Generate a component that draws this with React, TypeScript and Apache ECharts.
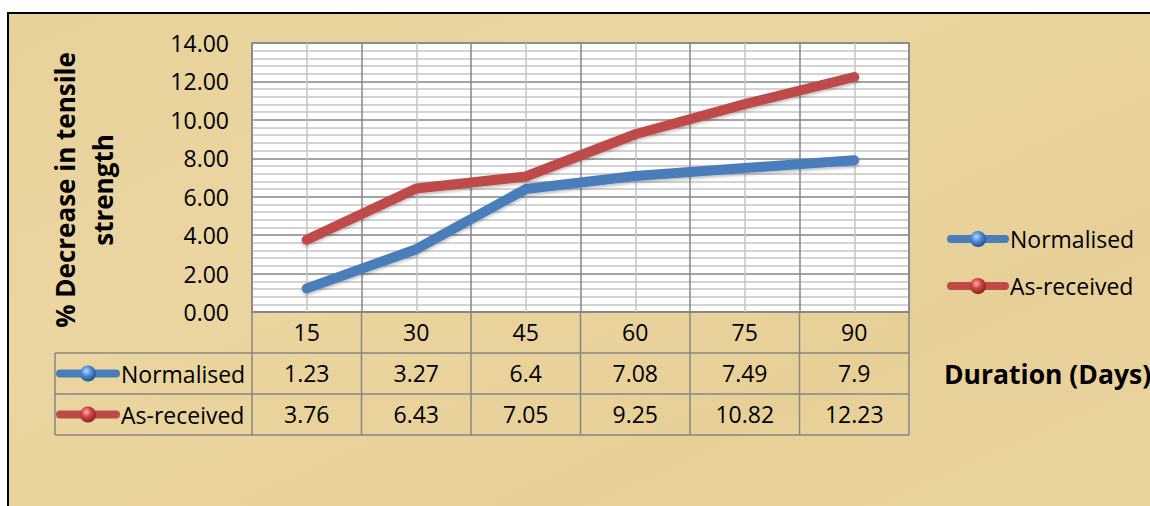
import React, { useEffect, useRef } from "react";
import * as echarts from "echarts";

const categories = ["15", "30", "45", "60", "75", "90"];
const normalised = [1.23, 3.27, 6.4, 7.08, 7.49, 7.9];
const asReceived = [3.76, 6.43, 7.05, 9.25, 10.82, 12.23];
const seriesNames = ["Normalised", "As-received"];
const yMin = 0;
const yMax = 14;
const yInterval = 2;
const yTitle = "% Decrease in tensile\nstrength";
const xTitle = "Duration (Days)";

const FONT = "'Open Sans', 'Noto Sans', sans-serif";
const GRID = { left: 252, top: 43, width: 657, height: 269 };
const ROW_H = 41;
const TABLE_LEFT = 55;
const MAJOR = "#868686";
const MINOR = "#c4c4c4";
const BLUE = "#4A7EBB";
const RED = "#BE4B48";

const parchment = {
  type: "linear", x: 0, y: 0, x2: 1, y2: 1,
  colorStops: [
    { offset: 0, color: "#E8D29C" },
    { offset: 0.35, color: "#EBD5A0" },
    { offset: 0.7, color: "#E7D098" },
    { offset: 1, color: "#EAD49E" },
  ],
};

const blueBall = {
  type: "radial", x: 0.4, y: 0.35, r: 0.7,
  colorStops: [
    { offset: 0, color: "#b5d6fb" },
    { offset: 0.45, color: "#4f8ad6" },
    { offset: 1, color: "#1d4a86" },
  ],
};
const redBall = {
  type: "radial", x: 0.4, y: 0.35, r: 0.7,
  colorStops: [
    { offset: 0, color: "#f7b3b0" },
    { offset: 0.45, color: "#d2413c" },
    { offset: 1, color: "#82201d" },
  ],
};

export default function App() {
  const ref = useRef<HTMLDivElement>(null);
  useEffect(() => {
    if (!ref.current) return;
    const chart = echarts.init(ref.current, null, { renderer: "svg" });
    const colW = GRID.width / categories.length;
    const bottom = GRID.top + GRID.height;
    const tableBottom = bottom + ROW_H * 3;
    const lines: any[] = [];
    const lineStyle = { stroke: MAJOR, lineWidth: 1.5 };
    for (let r = 1; r <= 3; r++) {
      const y = bottom + r * ROW_H;
      lines.push({ type: "line", shape: { x1: TABLE_LEFT, y1: y, x2: GRID.left + GRID.width, y2: y }, style: lineStyle });
    }
    lines.push({ type: "line", shape: { x1: TABLE_LEFT, y1: bottom + ROW_H, x2: TABLE_LEFT, y2: tableBottom }, style: lineStyle });
    for (let i = 0; i <= categories.length; i++) {
      const x = GRID.left + i * colW;
      lines.push({ type: "line", shape: { x1: x, y1: bottom, x2: x, y2: tableBottom }, style: lineStyle });
    }

    const labelStyle = {
      fontSize: 23, fontFamily: FONT, color: "#000", margin: 20,
      verticalAlign: "middle", interval: 0,
    };
    const tableAxis = (vals: number[], offset: number) => ({
      type: "category", gridIndex: 0, position: "bottom", offset,
      data: vals.map((v) => String(v)),
      axisLine: { show: false }, axisTick: { show: false }, splitLine: { show: false },
      axisLabel: labelStyle,
    });
    const legendText = { fontSize: 23, fontFamily: FONT, color: "#000", lineHeight: 24 };
    const legendData = [
      { name: seriesNames[0], itemStyle: { color: blueBall } },
      { name: seriesNames[1], itemStyle: { color: redBall } },
    ];

    chart.setOption({
      animation: false,
      backgroundColor: "#fff",
      graphic: [
        { type: "rect", z: -10, shape: { x: 8, y: 13, width: 1160, height: 520 }, style: { fill: parchment, stroke: "#000", lineWidth: 2 } },
        ...lines,
        {
          type: "text", x: 84, y: 190, rotation: Math.PI / 2,
          style: { text: yTitle, font: `bold 26px ${FONT}`, fill: "#000", textAlign: "center", textVerticalAlign: "middle", lineHeight: 38 },
        },
        {
          type: "text", x: 944, y: bottom + ROW_H * 1.5,
          style: { text: xTitle, font: `bold 26.5px ${FONT}`, fill: "#000", textAlign: "left", textVerticalAlign: "middle" },
        },
      ],
      grid: {
        left: GRID.left, top: GRID.top, width: GRID.width, height: GRID.height,
        show: true, backgroundColor: "#fff", borderColor: MAJOR, borderWidth: 1.5,
      },
      legend: [
        {
          orient: "vertical", left: 947, top: 227, padding: 0, itemGap: 23,
          itemWidth: 54, itemHeight: 20, textStyle: legendText, lineStyle: { width: 8 },
          data: legendData,
        },
        {
          orient: "vertical", left: 56, top: bottom + ROW_H * 1.5 - 12, padding: 0, itemGap: 17,
          itemWidth: 56, itemHeight: 20, textStyle: legendText, lineStyle: { width: 8 },
          data: legendData,
        },
      ],
      xAxis: [
        {
          type: "category", data: categories, boundaryGap: true,
          axisLine: { show: true, lineStyle: { color: MAJOR, width: 1.5 } },
          axisTick: { show: true, alignWithLabel: true, inside: true, length: GRID.height, lineStyle: { color: MINOR, width: 1.5 } },
          splitLine: { show: true, lineStyle: { color: MAJOR, width: 1.5 } },
          axisLabel: labelStyle,
        },
        tableAxis(normalised, ROW_H),
        tableAxis(asReceived, ROW_H * 2),
      ],
      yAxis: {
        type: "value", min: yMin, max: yMax, interval: yInterval,
        axisLine: { show: false }, axisTick: { show: false },
        axisLabel: { formatter: (v: number) => v.toFixed(2), fontSize: 23, fontFamily: FONT, color: "#000", margin: 23 },
        splitLine: { show: true, lineStyle: { color: MAJOR, width: 1.5 } },
        minorTick: { show: false, splitNumber: 5 },
        minorSplitLine: { show: true, lineStyle: { color: MINOR, width: 1.5 } },
      },
      series: [
        {
          name: seriesNames[0], type: "line", data: normalised, xAxisIndex: 0,
          symbol: "circle", showSymbol: false, color: BLUE,
          lineStyle: { color: BLUE, width: 10, cap: "round", join: "round", shadowColor: "rgba(0,0,0,0.25)", shadowBlur: 3, shadowOffsetY: 2 },
          itemStyle: { color: BLUE }, z: 3,
        },
        {
          name: seriesNames[1], type: "line", data: asReceived, xAxisIndex: 0,
          symbol: "circle", showSymbol: false, color: RED,
          lineStyle: { color: RED, width: 10, cap: "round", join: "round", shadowColor: "rgba(0,0,0,0.25)", shadowBlur: 3, shadowOffsetY: 2 },
          itemStyle: { color: RED }, z: 3,
        },
      ],
    });
    return () => chart.dispose();
  }, []);
  return <div ref={ref} style={{ position: "absolute", left: 0, top: 0, width: 1150, height: 506 }} />;
}
